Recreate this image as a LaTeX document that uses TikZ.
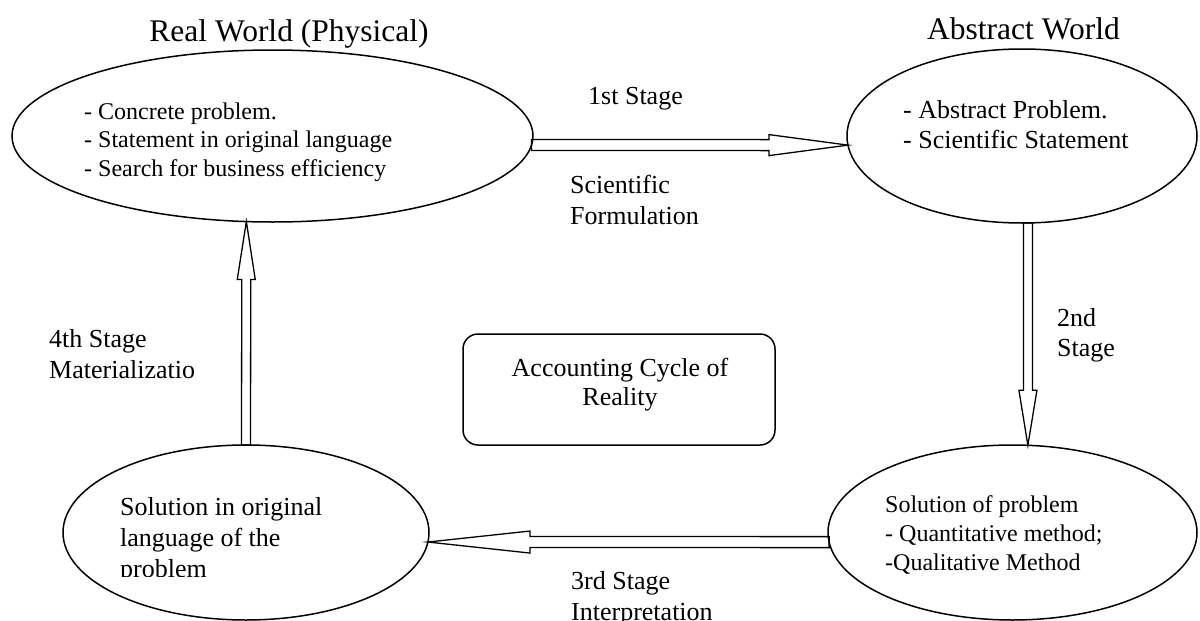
\documentclass[tikz,border=0pt]{standalone}
\usepackage{fontspec}
\setmainfont{Liberation Serif}
\usetikzlibrary{shapes.geometric,calc}
\tikzset{
  world/.style={ellipse,draw,line width=1.5pt,inner sep=0pt,outer sep=0pt},
  worldtitle/.style={anchor=base,inner sep=0pt,font=\fontsize{31.5}{36}\selectfont},
  stagetxt/.style={anchor=base west,align=left,inner sep=0pt,font=\fontsize{26}{30.5}\selectfont},
  smalltxt/.style={anchor=base west,align=left,inner sep=0pt,font=\fontsize{24}{28.5}\selectfont},
  blockarrow/.style n args={3}{line width=1.3pt,to path={let \p1=($(\tikztotarget)!#1!(\tikztostart)$) in
    ($(\tikztostart)!#2!90:(\tikztotarget)$) -- ($(\p1)!#2!90:(\tikztotarget)$) -- ($(\p1)!#3!90:(\tikztotarget)$)
    -- (\tikztotarget) -- ($(\p1)!#3!-90:(\tikztotarget)$) -- ($(\p1)!#2!-90:(\tikztotarget)$)
    -- ($(\tikztostart)!#2!-90:(\tikztotarget)$) -- cycle}}
}
\begin{document}
\begin{tikzpicture}[x=1pt,y=-1pt]
  \useasboundingbox (0,0) rectangle (1200,621);
  % the four worlds
  \node[world,minimum width=521pt,minimum height=172pt] (real) at (272.5,136) {};
  \node[world,minimum width=350pt,minimum height=174pt] (abstract) at (1022,136) {};
  \node[world,minimum width=369pt,minimum height=175pt] (solution) at (1012.5,532.5) {};
  \node[world,minimum width=366pt,minimum height=175pt] (original) at (246,532.5) {};
  \node[worldtitle] (realtitle) at (289,41) {Real World (Physical)};
  \node[worldtitle] (abstracttitle) at (1023.5,39.5) {Abstract World};
  \node[smalltxt] (realtxt) at (84,176) {- Concrete problem.\\- Statement in original language\\- Search for business efficiency};
  \node[stagetxt,font=\fontsize{26}{30}\selectfont] (abstracttxt) at (903,148) {- Abstract Problem.\\- Scientific Statement};
  \node[smalltxt,font=\fontsize{24}{29}\selectfont] (solutiontxt) at (885,570) {Solution of problem\\- Quantitative method;\\-Qualitative Method};
  \begin{scope}
    \clip (60,480) rectangle (430,576.5);
    \node[stagetxt,font=\fontsize{26}{31}\selectfont] (originaltxt) at (120,577) {Solution in original\\language of the\\problem};
  \end{scope}
  % center box
  \node[draw,line width=1.5pt,rounded corners=15pt,minimum width=312pt,minimum height=111pt,inner sep=0pt] (acc) at (619,389.5) {};
  \node[anchor=base,align=center,inner sep=0pt,font=\fontsize{26}{29.5}\selectfont] (acctxt) at (620,405.5) {Accounting Cycle of\\Reality};
  % stages
  \draw[blockarrow={79pt}{5.5pt}{10.5pt}] (real.-2.5) to (abstract.183.6);
  \draw[blockarrow={55pt}{4.5pt}{9pt}] (abstract.274) to (solution.80);
  \draw[blockarrow={102pt}{5.5pt}{11pt}] (solution.183.6) to (original.-3.3);
  \draw[blockarrow={58pt}{4.5pt}{9pt}] (original.north) to (real.253);
  \node[stagetxt] (first) at (588,104) {1st Stage};
  \node[stagetxt,font=\fontsize{26}{31}\selectfont] (formul) at (570,224) {Scientific\\Formulation};
  \node[stagetxt,font=\fontsize{26}{30}\selectfont] (second) at (1057,356) {2nd\\Stage};
  \node[stagetxt] (third) at (571,620) {3rd Stage\\Interpretation};
  \node[stagetxt,font=\fontsize{26}{31}\selectfont] (fourth) at (49,378) {4th Stage\\Materializatio};
\end{tikzpicture}
\end{document}
